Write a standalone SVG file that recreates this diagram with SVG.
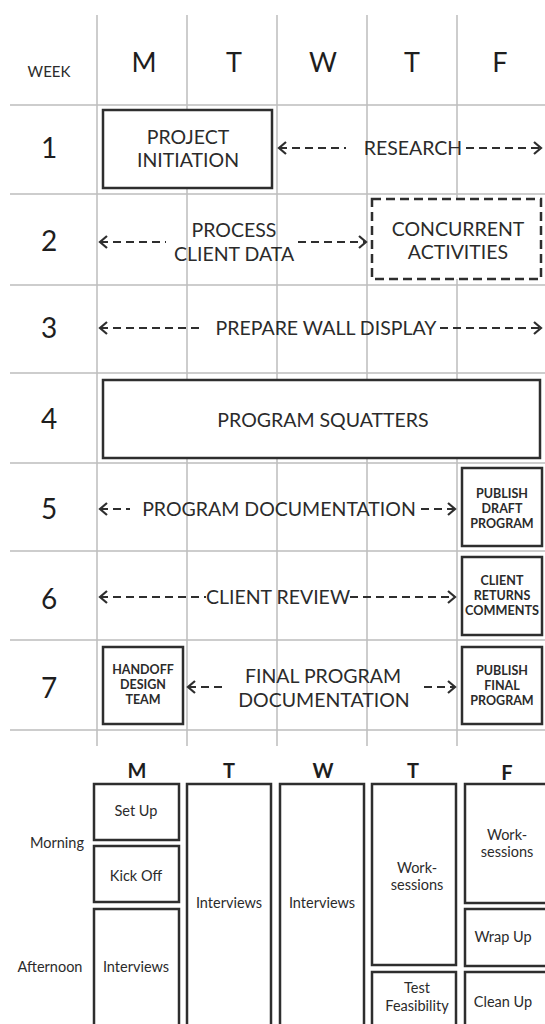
<svg xmlns="http://www.w3.org/2000/svg" width="545" height="1024" viewBox="0 0 545 1024">
<style>
text{font-family:Lato,"Open Sans","Liberation Sans",sans-serif;fill:#2b2b2b;text-anchor:middle}
.grid{stroke:#bdbdbd;stroke-width:1.5;fill:none}
.box{fill:#fff;stroke:#2e2e2e;stroke-width:2.5}
.dbox{fill:#fff;stroke:#2e2e2e;stroke-width:2.5;stroke-dasharray:9 5}
.arr{stroke:#2e2e2e;stroke-width:2.2;fill:none;stroke-dasharray:8 5}
.hd{font-size:27px;fill:#1e1e1e}
.wk{font-size:28px;fill:#1e1e1e}
.lbl{font-size:19.5px}
.sm{font-size:12.5px;font-weight:bold}
.hd2{font-size:20px;font-weight:bold;fill:#1e1e1e}
.bt{font-size:14.5px}
</style>
<defs>
<marker id="ah" markerUnits="userSpaceOnUse" markerWidth="14" markerHeight="14" refX="9" refY="7" orient="auto-start-reverse" viewBox="0 0 14 14">
<path d="M2,1 L9,7 L2,13" fill="none" stroke="#2e2e2e" stroke-width="2.2" stroke-dasharray="none"/>
</marker>
</defs>
<rect width="545" height="1024" fill="#fff"/>
<g id="grid">
<path class="grid" d="M97,15V746M187,15V746M277,15V746M367,15V746M457,15V746"/>
<path class="grid" d="M10,105H545M10,194H545M10,285H545M10,373H545M10,463H545M10,551H545M10,640H545M10,730H545"/>
</g>
<g id="header">
<text x="49" y="77" style="font-size:15px">WEEK</text>
<text class="hd" x="144" y="72">M</text>
<text class="hd" x="234" y="72">T</text>
<text class="hd" x="323" y="72">W</text>
<text class="hd" x="412" y="72">T</text>
<text class="hd" x="500" y="72">F</text>
<text class="wk" x="49" y="158">1</text>
<text class="wk" x="49" y="251">2</text>
<text class="wk" x="49" y="338">3</text>
<text class="wk" x="49" y="429">4</text>
<text class="wk" x="49" y="519">5</text>
<text class="wk" x="49" y="609">6</text>
<text class="wk" x="49" y="698">7</text>
</g>
<g id="connectors">
<path class="arr" d="M279,148H346" marker-start="url(#ah)"/>
<path class="arr" d="M466,148H541" marker-end="url(#ah)"/>
<path class="arr" d="M100,242H166" marker-start="url(#ah)"/>
<path class="arr" d="M298,242H366" marker-end="url(#ah)"/>
<path class="arr" d="M100,328H203" marker-start="url(#ah)"/>
<path class="arr" d="M440,328H541" marker-end="url(#ah)"/>
<path class="arr" d="M100,509H130" marker-start="url(#ah)"/>
<path class="arr" d="M421,509H455" marker-end="url(#ah)"/>
<path class="arr" d="M100,597H206" marker-start="url(#ah)"/>
<path class="arr" d="M350,597H455" marker-end="url(#ah)"/>
<path class="arr" d="M188,687H222" marker-start="url(#ah)"/>
<path class="arr" d="M424,687H455" marker-end="url(#ah)"/>
</g>
<g id="project-initiation">
<rect class="box" x="103" y="110" width="169" height="78"/>
<text class="lbl" x="188" y="144">PROJECT</text>
<text class="lbl" x="188" y="167">INITIATION</text>
</g>
<g id="research"><text class="lbl" x="413" y="155">RESEARCH</text></g>
<g id="process-client-data">
<text class="lbl" x="234" y="237">PROCESS</text>
<text class="lbl" x="234" y="261">CLIENT DATA</text>
</g>
<g id="concurrent-activities">
<rect class="dbox" x="372" y="199" width="169" height="80"/>
<text class="lbl" x="458" y="236">CONCURRENT</text>
<text class="lbl" x="458" y="259">ACTIVITIES</text>
</g>
<g id="prepare-wall-display"><text class="lbl" x="326" y="335">PREPARE WALL DISPLAY</text></g>
<g id="program-squatters">
<rect class="box" x="103" y="380" width="437" height="78"/>
<text class="lbl" x="323" y="427">PROGRAM SQUATTERS</text>
</g>
<g id="program-documentation"><text class="lbl" x="279" y="516">PROGRAM DOCUMENTATION</text></g>
<g id="publish-draft-program">
<rect class="box" x="462" y="468" width="80" height="78"/>
<text class="sm" x="502" y="498">PUBLISH</text>
<text class="sm" x="502" y="513">DRAFT</text>
<text class="sm" x="502" y="528">PROGRAM</text>
</g>
<g id="client-review"><text class="lbl" x="278" y="604">CLIENT REVIEW</text></g>
<g id="client-returns-comments">
<rect class="box" x="462" y="557" width="80" height="78"/>
<text class="sm" x="502" y="585">CLIENT</text>
<text class="sm" x="502" y="600">RETURNS</text>
<text class="sm" x="502" y="615" textLength="74" lengthAdjust="spacingAndGlyphs">COMMENTS</text>
</g>
<g id="handoff-design-team">
<rect class="box" x="103" y="647" width="80" height="77"/>
<text class="sm" x="143" y="674">HANDOFF</text>
<text class="sm" x="143" y="689">DESIGN</text>
<text class="sm" x="143" y="704">TEAM</text>
</g>
<g id="final-program-documentation">
<text class="lbl" x="323" y="683">FINAL PROGRAM</text>
<text class="lbl" x="324" y="707">DOCUMENTATION</text>
</g>
<g id="publish-final-program">
<rect class="box" x="462" y="647" width="80" height="77"/>
<text class="sm" x="502" y="675">PUBLISH</text>
<text class="sm" x="502" y="690">FINAL</text>
<text class="sm" x="502" y="705">PROGRAM</text>
</g>
<g id="week-header">
<text class="hd2" x="137" y="778">M</text>
<text class="hd2" x="229" y="778">T</text>
<text class="hd2" x="323" y="778">W</text>
<text class="hd2" x="413" y="778">T</text>
<text class="hd2" x="507" y="780">F</text>
<text class="bt" x="57" y="848">Morning</text>
<text class="bt" x="50" y="972">Afternoon</text>
</g>
<g id="set-up"><rect class="box" x="94" y="784" width="85" height="56"/><text class="bt" x="136" y="816">Set Up</text></g>
<g id="kick-off"><rect class="box" x="94" y="846" width="85" height="56"/><text class="bt" x="136" y="881">Kick Off</text></g>
<g id="mon-interviews"><rect class="box" x="94" y="909" width="85" height="130"/><text class="bt" x="136" y="972">Interviews</text></g>
<g id="tue-interviews"><rect class="box" x="187" y="784" width="84" height="255"/><text class="bt" x="229" y="908">Interviews</text></g>
<g id="wed-interviews"><rect class="box" x="280" y="784" width="84" height="255"/><text class="bt" x="322" y="908">Interviews</text></g>
<g id="thu-worksessions"><rect class="box" x="372" y="784" width="84" height="181"/><text class="bt" x="417" y="873">Work-</text><text class="bt" x="417" y="890">sessions</text></g>
<g id="test-feasibility"><rect class="box" x="372" y="972" width="84" height="67"/><text class="bt" x="417" y="993">Test</text><text class="bt" x="417" y="1011">Feasibility</text></g>
<g id="fri-worksessions"><rect class="box" x="465" y="784" width="90" height="119"/><text class="bt" x="507" y="840">Work-</text><text class="bt" x="507" y="857">sessions</text></g>
<g id="wrap-up"><rect class="box" x="465" y="909" width="90" height="57"/><text class="bt" x="503" y="942">Wrap Up</text></g>
<g id="clean-up"><rect class="box" x="465" y="972" width="90" height="67"/><text class="bt" x="503" y="1007">Clean Up</text></g>
</svg>
